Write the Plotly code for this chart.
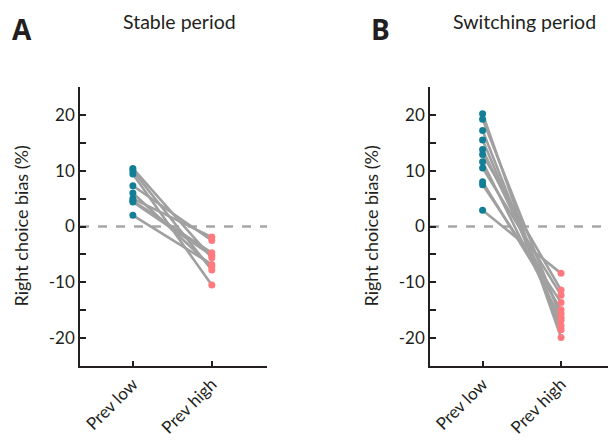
import plotly.graph_objects as go

categories = ["Prev low", "Prev high"]

stable_low = [10.4, 10.0, 9.4, 7.3, 6.0, 5.0, 4.6, 4.4, 2.0]
stable_high = [-5.6, -7.8, -10.5, -2.5, -7.2, -1.9, -4.7, -5.2, -6.8]

switch_low = [20.2, 19.2, 17.2, 15.5, 13.8, 12.9, 11.6, 10.5, 8.0, 7.5, 2.9]
switch_high = [-19.9, -16.3, -18.5, -17.8, -15.6, -11.4, -16.8, -12.3, -14.9, -13.6, -8.4]

y_tickvals = [-25, -20, -15, -10, -5, 0, 5, 10, 15, 20, 25]
y_ticktext = ["", "-20", "", "-10", "", "0", "", "10", "", "20", ""]

LINE_GRAY = "#a0a0a0"
TEAL = "#127f96"
PINK = "#ff7a7e"
TXT = "#231f20"
FONT = "Lato"

fig = go.Figure()

def add_panel(low, high, xa, ya):
    for lo, hi in zip(low, high):
        fig.add_trace(go.Scatter(x=[0, 1], y=[lo, hi], mode="lines",
                                 line=dict(color=LINE_GRAY, width=2.6),
                                 xaxis=xa, yaxis=ya, showlegend=False, hoverinfo="skip"))
    fig.add_trace(go.Scatter(x=[0] * len(low), y=low, mode="markers",
                             marker=dict(color=TEAL, size=7),
                             xaxis=xa, yaxis=ya, showlegend=False))
    fig.add_trace(go.Scatter(x=[1] * len(high), y=high, mode="markers",
                             marker=dict(color=PINK, size=7),
                             xaxis=xa, yaxis=ya, showlegend=False))

add_panel(stable_low, stable_high, "x", "y")
add_panel(switch_low, switch_high, "x2", "y2")

xcommon = dict(range=[-0.67, 1.70], tickvals=[0, 1], ticktext=categories,
               tickangle=-45, ticks="inside", ticklen=5, tickwidth=1.5, tickcolor=TXT,
               showline=True, linecolor=TXT, linewidth=1.5, showgrid=False,
               zeroline=False, automargin=False,
               tickfont=dict(size=17, color=TXT, family=FONT))
ycommon = dict(range=[-25, 25], tickvals=y_tickvals, ticktext=y_ticktext,
               ticks="inside", ticklen=6, tickwidth=1.5, tickcolor=TXT,
               showline=True, linecolor=TXT, linewidth=1.5, showgrid=False,
               zeroline=False, automargin=False,
               tickfont=dict(size=17, color=TXT, family=FONT),
               domain=[0, 1])

fig.update_layout(
    width=608, height=438,
    margin=dict(l=72, r=0, t=79, b=80),
    plot_bgcolor="white", paper_bgcolor="white",
    font=dict(family=FONT, color=TXT),
    xaxis=dict(domain=[0, 0.349], anchor="y", **xcommon),
    yaxis=dict(anchor="x", **ycommon),
    xaxis2=dict(domain=[0.653, 1.0], anchor="y2", **xcommon),
    yaxis2=dict(anchor="x2", **ycommon),
)

for xr, yr in [("x", "y"), ("x2", "y2")]:
    fig.add_shape(type="line", xref=f"{xr} domain", yref=yr, x0=0, x1=1, y0=0, y1=0,
                  line=dict(color="#a6a6a6", width=2.5, dash="dash"), layer="below")

ann = []
for px_label, px_title, title, ylab_px, xr, yr in [
        ("A", 179, "Stable period", 20, "x", "y"),
        ("B", 524, "Switching period", 370, "x2", "y2")]:
    left = 10 if px_label == "A" else 369
    ann.append(dict(text=f"<b>{px_label}</b>", x=(left - 80) / 536, y=(366 - 8.5) / 279,
                    xref="paper", yref="paper", xanchor="left", yanchor="top",
                    showarrow=False, font=dict(size=28, family="Open Sans", color=TXT)))
    ann.append(dict(text=title, x=(px_title - 80) / 536, y=(366 - 21) / 279,
                    xref="paper", yref="paper", xanchor="center", yanchor="middle",
                    showarrow=False, font=dict(size=19.5, family=FONT, color=TXT)))
    ann.append(dict(text="Right choice bias (%)", x=(ylab_px - 80) / 536, y=0,
                    xref="paper", yref=yr, xanchor="center", yanchor="middle",
                    textangle=-90, showarrow=False, font=dict(size=18, family=FONT, color=TXT)))
    ann.append(dict(text="**", x=0.56, y=25.6, xref=xr, yref=yr,
                    xanchor="center", yanchor="middle", showarrow=False,
                    font=dict(size=22, family=FONT, color=TXT)))

fig.update_layout(annotations=ann)
fig.write_html("out.html")
